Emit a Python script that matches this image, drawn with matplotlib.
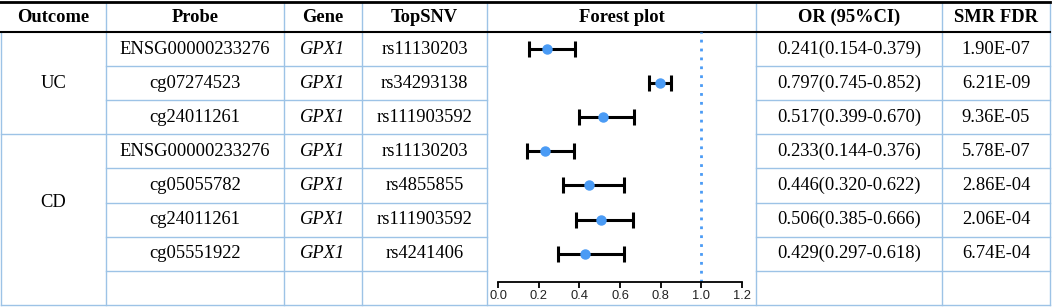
import matplotlib
matplotlib.use('Agg')
import matplotlib.pyplot as plt
import numpy as np

# table data
outcomes = ['UC', 'CD']
outcome_sizes = [3, 4]
probes = ['ENSG00000233276', 'cg07274523', 'cg24011261',
          'ENSG00000233276', 'cg05055782', 'cg24011261', 'cg05551922']
genes = ['GPX1'] * 7
snvs = ['rs11130203', 'rs34293138', 'rs111903592',
        'rs11130203', 'rs4855855', 'rs111903592', 'rs4241406']
or_val = [0.241, 0.797, 0.517, 0.233, 0.446, 0.506, 0.429]
or_lo = [0.154, 0.745, 0.399, 0.144, 0.320, 0.385, 0.297]
or_hi = [0.379, 0.852, 0.670, 0.376, 0.622, 0.666, 0.618]
fdr = ['1.90E-07', '6.21E-09', '9.36E-05', '5.78E-07', '2.86E-04', '2.06E-04', '6.74E-04']
headers = ['Outcome', 'Probe', 'Gene', 'TopSNV', 'Forest plot', 'OR (95%CI)', 'SMR FDR']
xticks = [0.0, 0.2, 0.4, 0.6, 0.8, 1.0, 1.2]

W, H = 1052, 308
line_c = '#9dc3e6'
dot_c = '#4a9bf5'
serif = 'Liberation Serif'
fs = 13.3

fig = plt.figure(figsize=(W / 100, H / 100), dpi=100)
tab = fig.add_axes([0, 0, 1, 1])
tab.set_xlim(0, W)
tab.set_ylim(H, 0)
tab.axis('off')

cols = [1, 106, 284, 362, 487, 756, 942, 1050]
top, hdr = 2, 32
row_h = 34.1
n = len(probes)
edges = [hdr + k * row_h for k in range(n + 2)]
bottom = edges[-1]
forest_l, forest_r = cols[4], cols[5]

# vertical lines
for i, x in enumerate(cols):
    y0 = hdr if i == 0 else top
    tab.plot([x, x], [y0, bottom], color=line_c, lw=1)

# horizontal row lines
for k in range(1, n + 2):
    y = edges[k]
    x0 = cols[0] if k in (outcome_sizes[0], n + 1) else cols[1]
    if k == n + 1:
        tab.plot([x0, cols[-1]], [y, y], color=line_c, lw=1)
    else:
        tab.plot([x0, forest_l], [y, y], color=line_c, lw=1)
        tab.plot([forest_r, cols[-1]], [y, y], color=line_c, lw=1)

# black header rules
tab.plot([0, cols[-1]], [top, top], color='black', lw=2)
tab.plot([0, cols[-1]], [hdr, hdr], color='black', lw=1.5)

# header text
for i, h in enumerate(headers):
    xc = (cols[i] + cols[i + 1]) / 2
    tab.text(xc, (top + hdr) / 2, h, ha='center', va='center',
             fontsize=fs, fontweight='bold', family=serif)

# outcome cells
start = 0
for name, size in zip(outcomes, outcome_sizes):
    yc = (edges[start] + edges[start + size]) / 2
    tab.text((cols[0] + cols[1]) / 2, yc, name, ha='center', va='center',
             fontsize=fs, family=serif)
    start += size

# body text
for i in range(n):
    yc = (edges[i] + edges[i + 1]) / 2
    tab.text((cols[1] + cols[2]) / 2, yc, probes[i], ha='center', va='center', fontsize=fs, family=serif)
    tab.text((cols[2] + cols[3]) / 2, yc, genes[i], ha='center', va='center', fontsize=fs,
             family=serif, style='italic')
    tab.text((cols[3] + cols[4]) / 2, yc, snvs[i], ha='center', va='center', fontsize=fs, family=serif)
    ci = '%.3f(%.3f-%.3f)' % (or_val[i], or_lo[i], or_hi[i])
    tab.text((cols[5] + cols[6]) / 2, yc, ci, ha='center', va='center', fontsize=fs, family=serif)
    tab.text((cols[6] + cols[7]) / 2, yc, fdr[i], ha='center', va='center', fontsize=fs, family=serif)

# forest plot
ax_l, ax_r, ax_b = 498, 742, 282
ax = fig.add_axes([ax_l / W, (H - ax_b) / H, (ax_r - ax_l) / W, (ax_b - hdr) / H])
ax.patch.set_alpha(0)
ax.set_xlim(xticks[0], xticks[-1])
ax.set_ylim(ax_b, hdr)
yc = [(edges[i] + edges[i + 1]) / 2 for i in range(n)]
val = np.array(or_val)
err = [val - np.array(or_lo), np.array(or_hi) - val]
ax.errorbar(val, yc, xerr=err, fmt='none', ecolor='black', elinewidth=2.2,
            capsize=5.5, capthick=2.2, zorder=2)
ax.plot(val, yc, 'o', color=dot_c, ms=6.5, zorder=3)
ax.axvline(1.0, color=dot_c, ls=(0, (1, 2.2)), lw=2, zorder=1)
for s in ['top', 'right', 'left']:
    ax.spines[s].set_visible(False)
ax.spines['bottom'].set_linewidth(1.3)
ax.set_yticks([])
ax.set_xticks(xticks)
ax.set_xticklabels(['%.1f' % t for t in xticks], fontsize=9.3, family='Liberation Sans', color='#222222')
ax.tick_params(axis='x', length=4, width=1.3, pad=2)

fig.savefig('out.png', dpi=100)
